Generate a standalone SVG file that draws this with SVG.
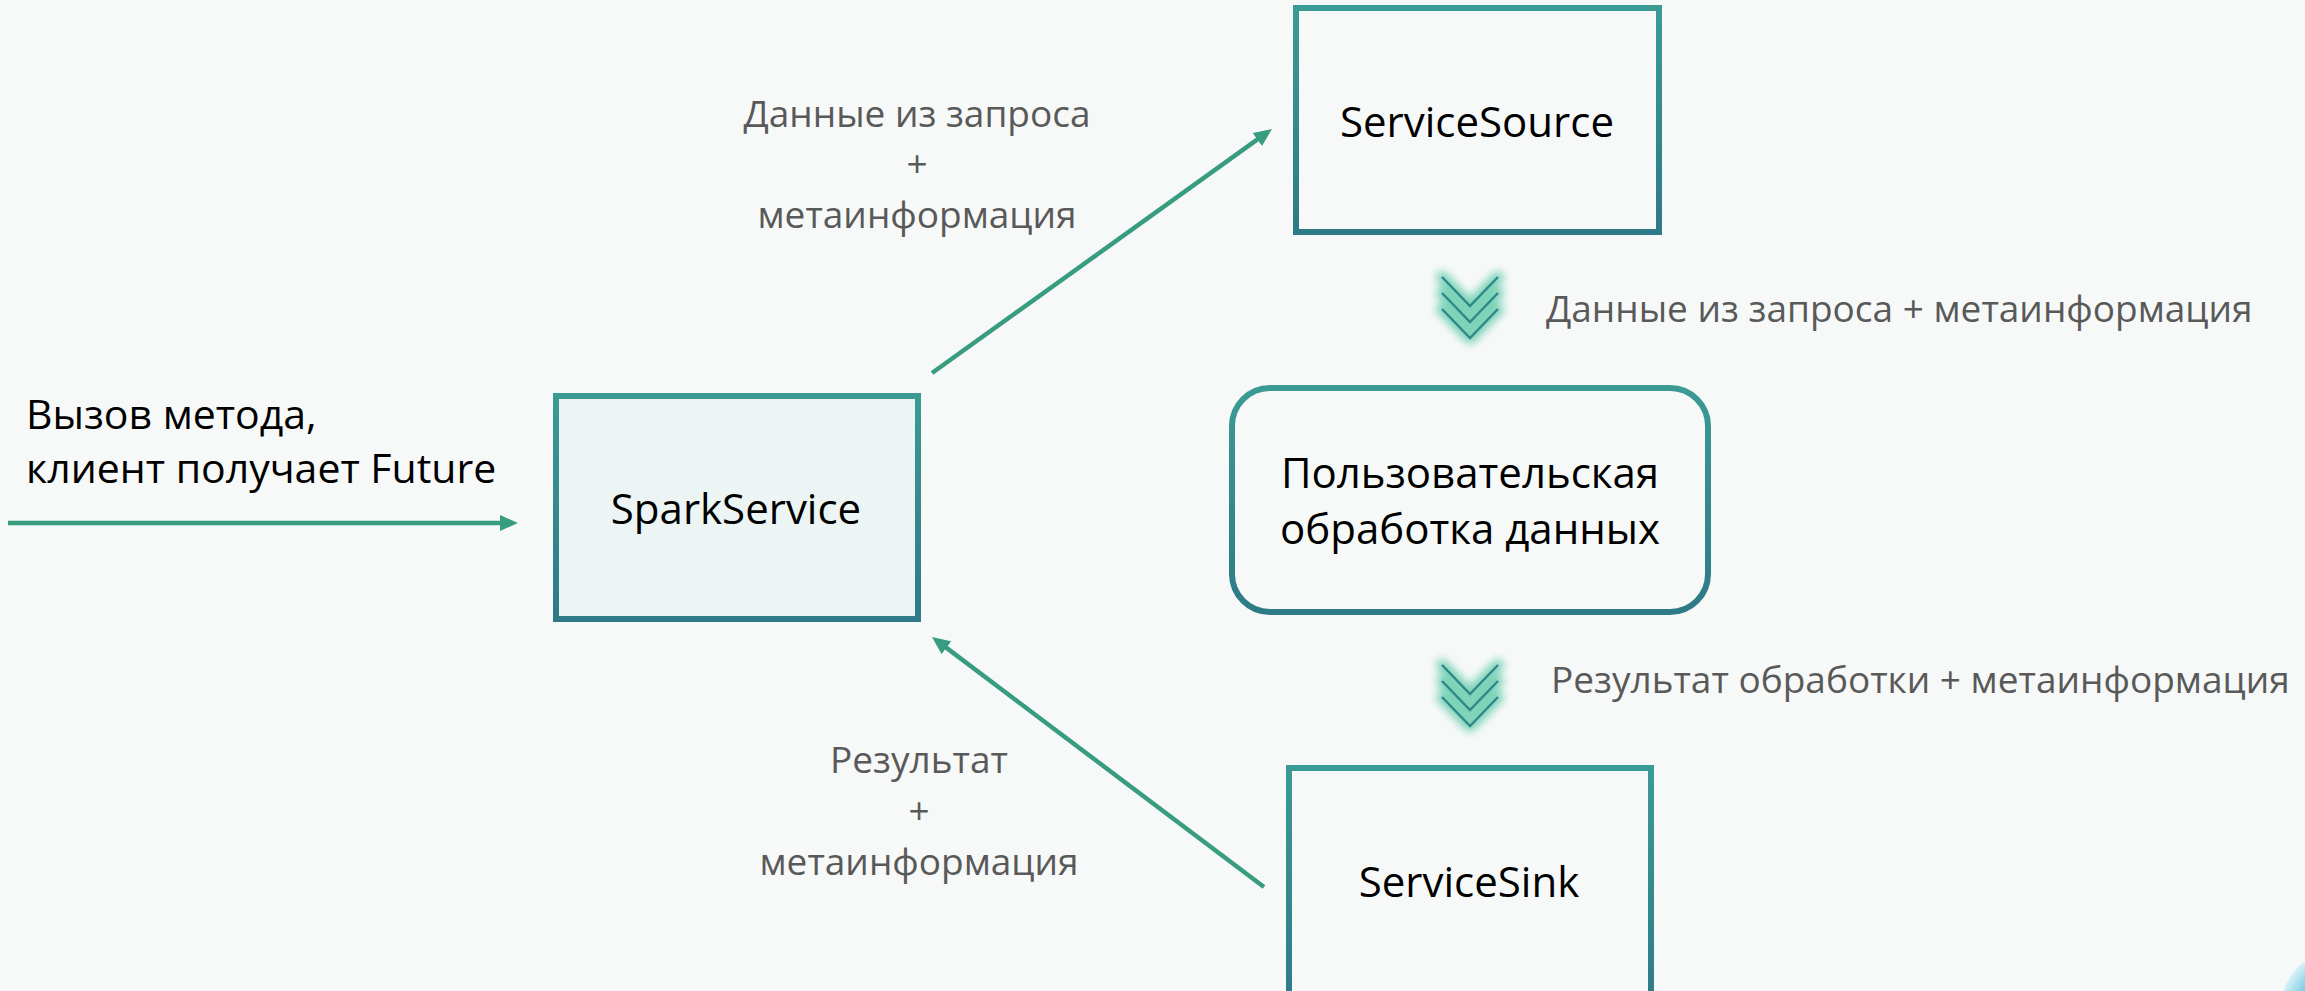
<svg xmlns="http://www.w3.org/2000/svg" width="2305" height="991" viewBox="0 0 2305 991">
<defs>
<style>
.node{stroke:url(#borderGrad);stroke-width:6;}
.ntext{font-family:"Open Sans","Noto Sans",sans-serif;font-size:42px;fill:#000;text-anchor:middle;}
.label{font-family:"Open Sans","Noto Sans",sans-serif;font-size:37px;fill:#595959;}
.clabel{text-anchor:middle;}
.conn{stroke:#389C81;stroke-width:4.5;fill:none;marker-end:url(#arrow);}
.chev{fill:none;stroke:#2E8A88;stroke-width:2.5;}
.glow{fill:none;stroke:#7DD3B8;stroke-width:12;stroke-linejoin:round;stroke-linecap:round;filter:url(#blur);}
.call{font-family:"Open Sans","Noto Sans",sans-serif;font-size:41px;fill:#000;}
</style>
<linearGradient id="borderGrad" gradientUnits="objectBoundingBox" x1="0" y1="0" x2="0" y2="1">
<stop offset="0" stop-color="#3C9A94"/>
<stop offset="1" stop-color="#2E7A88"/>
</linearGradient>
<radialGradient id="cornerGrad" cx="0.5" cy="0.5" r="0.5">
<stop offset="0.6" stop-color="#3FB3D6"/>
<stop offset="1" stop-color="#CDEFF7"/>
</radialGradient>
<filter id="blur" x="-50%" y="-50%" width="200%" height="200%">
<feGaussianBlur stdDeviation="4.5"/>
</filter>
<marker id="arrow" markerUnits="userSpaceOnUse" markerWidth="18" markerHeight="16" refX="4" refY="8" orient="auto">
<path d="M0,0 L18,8 L0,16 z" fill="#389C81"/>
</marker>
<g id="chevrons">
<path class="glow" d="M-28,0 L0,29 L28,0 M-28,16 L0,45 L28,16 M-28,32 L0,61 L28,32"/>
<path class="chev" d="M-28,0 L0,29 L28,0 M-28,16 L0,45 L28,16 M-28,32 L0,61 L28,32"/>
</g>
</defs>
<rect x="0" y="0" width="2305" height="991" fill="#F7F9F8"/>
<circle cx="2340" cy="1010" r="60" fill="url(#cornerGrad)" opacity="0.75"/>

<g id="connectors">
<path class="conn" d="M932,373 L1260.6,137.2"/>
<path class="conn" d="M1264,887 L943.2,645.4"/>
<path class="conn" d="M8,523 L504,523"/>
</g>

<g id="spark-service">
<rect class="node" x="556" y="396" width="362" height="223" fill="#ECF5F4"/>
<text class="ntext" x="736" y="524">SparkService</text>
</g>

<g id="service-source">
<rect class="node" x="1296" y="8" width="363" height="224" fill="#F7F9F8"/>
<text class="ntext" x="1477" y="137">ServiceSource</text>
</g>

<g id="user-processing">
<rect class="node" x="1232" y="388" width="476" height="224" rx="38" ry="38" fill="#F7F9F8"/>
<text class="ntext" x="1470" y="488" font-size="41">Пользовательская</text>
<text class="ntext" x="1470" y="544" font-size="41">обработка данных</text>
</g>

<g id="service-sink">
<rect class="node" x="1289" y="768" width="362" height="240" fill="#F7F9F8"/>
<text class="ntext" x="1469" y="897">ServiceSink</text>
</g>

<g id="flow-1">
<use href="#chevrons" x="1470" y="277"/>
<text class="label" x="1546" y="322">Данные из запроса + метаинформация</text>
</g>

<g id="flow-2">
<use href="#chevrons" x="1470" y="665"/>
<text class="label" x="1551" y="693">Результат обработки + метаинформация</text>
</g>

<g id="label-request">
<text class="label clabel" x="917" y="127">Данные из запроса</text>
<text class="label clabel" x="917" y="177">+</text>
<text class="label clabel" x="917" y="228">метаинформация</text>
</g>

<g id="label-result">
<text class="label clabel" x="919" y="773">Результат</text>
<text class="label clabel" x="919" y="824">+</text>
<text class="label clabel" x="919" y="875">метаинформация</text>
</g>

<g id="label-call">
<text class="call" x="26" y="429">Вызов метода,</text>
<text class="call" x="26" y="483">клиент получает Future</text>
</g>
</svg>
